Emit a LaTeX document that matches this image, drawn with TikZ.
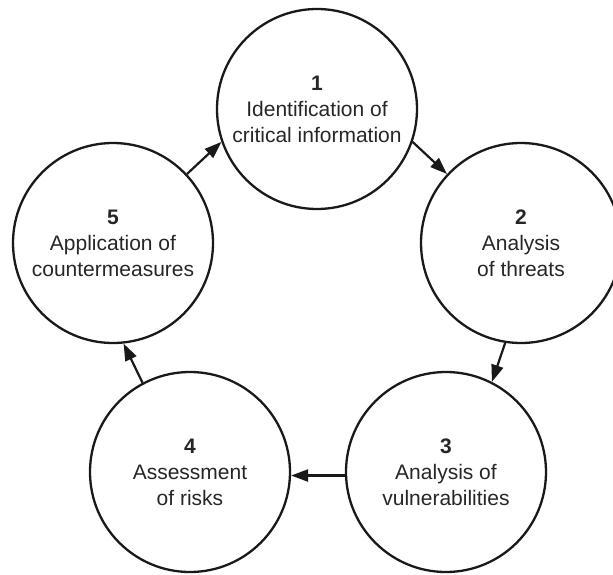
\documentclass[tikz,border=0pt]{standalone}
\usepackage{fontspec}
\setmainfont{Liberation Sans}
\usetikzlibrary{arrows.meta}
\begin{document}
\begin{tikzpicture}[x=1pt,y=-1pt,
  stage/.style={circle,draw=black!90,line width=2.3pt,minimum size=200pt,inner sep=0pt,align=center,
    font=\fontsize{21}{26}\selectfont,text=black!85},
  flow/.style={draw=black!90,line width=2.2pt,-{Triangle[length=17pt,width=12pt]}}]
\useasboundingbox (0,0) rectangle (613,575);
\clip (0,0) rectangle (613,575);
\node[stage] (c1) at (317,109) {\textbf{1}\\Identification of\\critical information};
\node[stage] (c2) at (521,243) {\textbf{2}\\Analysis\\of threats};
\node[stage] (c3) at (446,472) {\textbf{3}\\Analysis of\\vulnerabilities};
\node[stage] (c4) at (190,472) {\textbf{4}\\Assessment\\of risks};
\node[stage] (c5) at (113,243) {\textbf{5}\\Application of\\countermeasures};
\draw[flow] (c1.-19) -- (c2.137);
\draw[flow] (c2.-99) -- (c3.63);
\draw[flow] (c3.182) -- (c4.-2);
\draw[flow] (c4.118) -- (c5.-84);
\draw[flow] (c5.43) -- (c1.199);
\end{tikzpicture}
\end{document}
